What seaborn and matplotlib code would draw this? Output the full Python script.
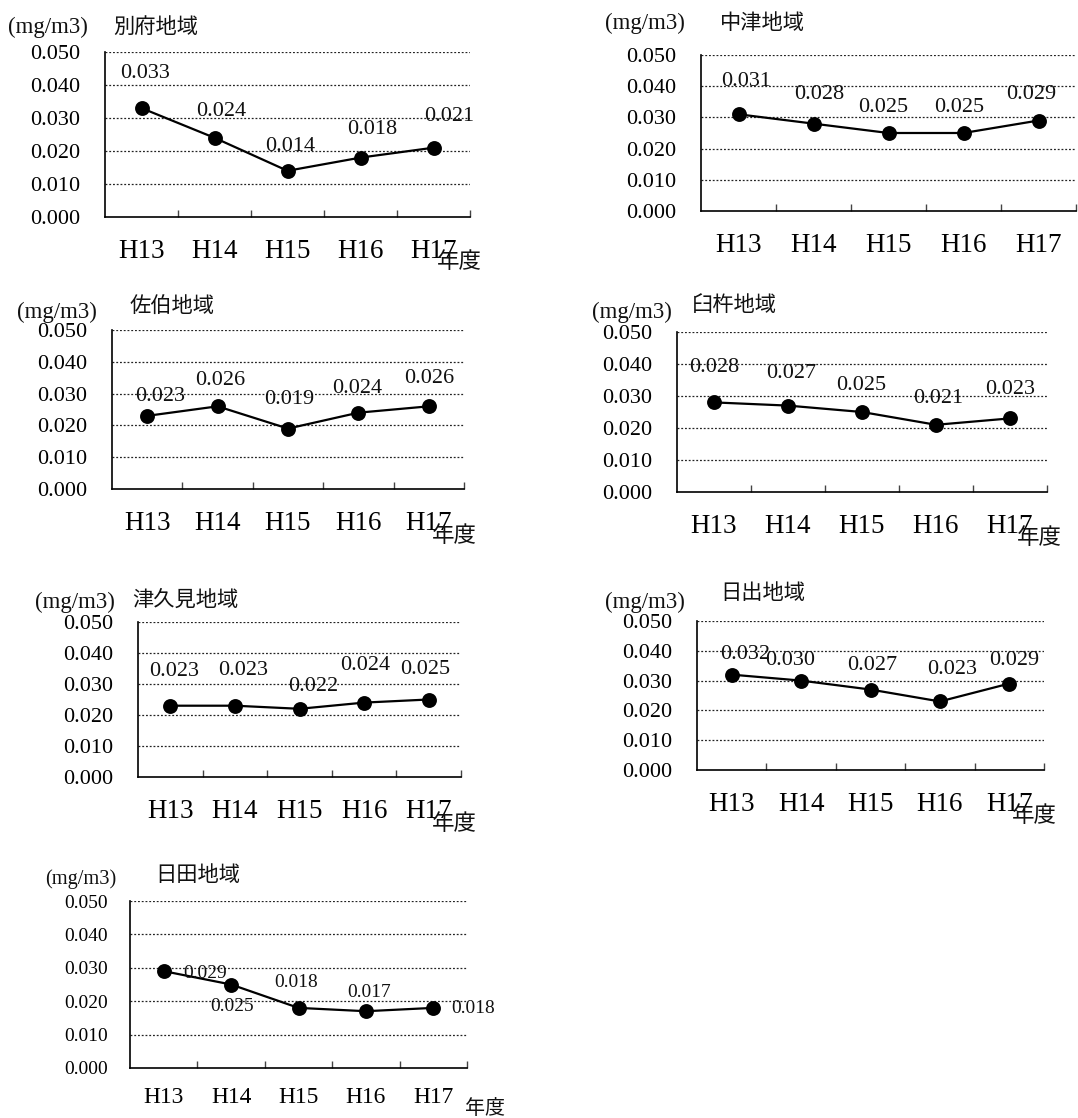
import matplotlib
matplotlib.use("Agg")
import matplotlib.pyplot as plt
import seaborn as sns

# ---------------- data ----------------
years = ["H13", "H14", "H15", "H16", "H17"]
beppu = [0.033, 0.024, 0.014, 0.018, 0.021]
nakatsu = [0.031, 0.028, 0.025, 0.025, 0.029]
saiki = [0.023, 0.026, 0.019, 0.024, 0.026]
usuki = [0.028, 0.027, 0.025, 0.021, 0.023]
tsukumi = [0.023, 0.023, 0.022, 0.024, 0.025]
hiji = [0.032, 0.030, 0.027, 0.023, 0.029]
hita = [0.029, 0.025, 0.018, 0.017, 0.018]
region_names = ["別府地域", "中津地域", "佐伯地域", "臼杵地域", "津久見地域", "日出地域", "日田地域"]
series = [beppu, nakatsu, saiki, usuki, tsukumi, hiji, hita]
y_ticks = [0.000, 0.010, 0.020, 0.030, 0.040, 0.050]
unit_label = "(mg/m3)"
x_unit = "年度"

# ---------------- layout / style ----------------
W, H = 1078, 1118
SERIF = ["Liberation Serif", "DejaVu Serif"]
CJK = ["Noto Sans CJK JP", "DejaVu Sans"]

panels = [
    dict(box=(105, 52, 470, 217), unit=(8, 27), title=(113, 27), nendo=(437, 262), s=1.0,
         offs=[(4, -35), (7, -26), (3, -24), (12, -28), (16, -31)]),
    dict(box=(701, 55, 1076, 211), unit=(605, 23), title=(720, 23), nendo=None, s=1.0,
         offs=[(8, -33), (6, -29), (-5, -26), (-4, -26), (-7, -26)]),
    dict(box=(112, 330, 464, 489), unit=(17, 312), title=(130, 306), nendo=(432, 535), s=1.0,
         offs=[(13, -19), (3, -26), (1, -29), (-1, -24), (0, -28)]),
    dict(box=(677, 332, 1047, 492), unit=(592, 312), title=(692, 305), nendo=(1017, 538), s=1.0,
         offs=[(0, -35), (3, -32), (-1, -26), (2, -26), (0, -29)]),
    dict(box=(138, 622, 461, 777), unit=(35, 602), title=(132, 600), nendo=(432, 823), s=1.0,
         offs=[(4, -34), (8, -35), (14, -22), (1, -37), (-4, -30)]),
    dict(box=(697, 621, 1044, 770), unit=(605, 602), title=(720, 593), nendo=(1012, 816), s=1.0,
         offs=[(13, -20), (-11, -20), (2, -24), (12, -32), (5, -23)]),
    dict(box=(130, 901, 467, 1068), unit=(45, 879), title=(155, 875), nendo=(465, 1108), s=0.87,
         offs=[(41, 2), (1, 22), (-2, -25), (3, -19), (40, 1)]),
]

fig = plt.figure(figsize=(W / 100, H / 100), dpi=100)
fig.patch.set_facecolor("white")


def fx(px):
    return px / W


def fy(py):
    return 1 - py / H


for name, vals, p in zip(region_names, series, panels):
    x1, y1, x2, y2 = p["box"]
    s = p["s"]
    ax = fig.add_axes([fx(x1), fy(y2), (x2 - x1) / W, (y2 - y1) / H])
    ax.set_facecolor("white")
    sns.pointplot(x=years, y=vals, ax=ax, color="black", markers="o", linestyles="-",
                  errorbar=None, linewidth=1.6, markersize=9.5)
    ax.set_xlim(-0.5, len(years) - 0.5)
    ax.set_ylim(y_ticks[0], y_ticks[-1])
    ax.set_yticks(y_ticks)
    ax.set_yticklabels([f"{v:.3f}" for v in y_ticks], family=SERIF, fontsize=16 * s)
    ax.set_xticks(range(len(years)))
    ax.set_xticklabels(years, family=SERIF, fontsize=19.5 * s)
    ax.set_xticks([i + 0.5 for i in range(len(years))], minor=True)
    ax.tick_params(axis="x", which="major", length=0, pad=15.5 * s)
    ax.tick_params(axis="x", which="minor", direction="in", length=5, width=1, color="#444")
    ax.tick_params(axis="y", length=0, pad=18 * s)
    ax.set_xlabel("")
    ax.set_ylabel("")
    ax.grid(False)
    for yv in y_ticks[1:]:
        ax.axhline(yv, color="#222", lw=0.9, ls=(0, (1.5, 1.5)), zorder=0)
    for side in ("top", "right"):
        ax.spines[side].set_visible(False)
    for side in ("left", "bottom"):
        ax.spines[side].set_color("black")
        ax.spines[side].set_linewidth(1.2)
    for i, (v, (dx, dy)) in enumerate(zip(vals, p["offs"])):
        ax.annotate(f"{v:.3f}", xy=(i, v), xytext=(dx, -dy), textcoords="offset pixels",
                    ha="center", va="center", family=SERIF, fontsize=16 * s,
                    color="#111", annotation_clip=False)
    ux, uy = p["unit"]
    fig.text(fx(ux), fy(uy), unit_label, ha="left", va="center", family=SERIF,
             fontsize=16.5 * (1 if s == 1 else 0.89), color="#111")
    tx, ty = p["title"]
    fig.text(fx(tx), fy(ty), name, ha="left", va="center", family=CJK,
             fontsize=15.3, color="#111")
    if p["nendo"] is not None:
        nx, ny = p["nendo"]
        fig.text(fx(nx), fy(ny), x_unit, ha="left", va="center", family=CJK,
                 fontsize=16.2 * (1 if s == 1 else 0.89), color="#111")

fig.savefig("out.png", dpi=100, facecolor="white")
